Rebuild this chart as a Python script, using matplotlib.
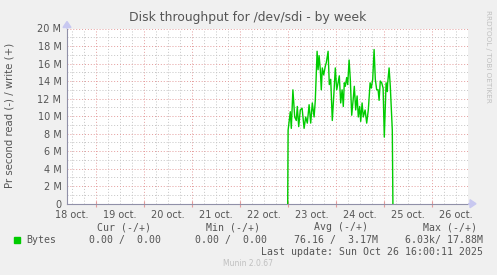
import numpy as np
import matplotlib
matplotlib.use("Agg")
import matplotlib.pyplot as plt

# ---- data ----
day_labels = ['18 oct.', '19 oct.', '20 oct.', '21 oct.', '22 oct.',
              '23 oct.', '24 oct.', '25 oct.', '26 oct.']
# hours since 18 oct 00:00
t_hours = [120.0, 120.2, 121.3, 121.8, 122.6, 123.5, 124.3, 124.8, 125.5, 126.3, 127.2,
           128.2, 129.0, 129.8, 130.7, 131.5, 132.3, 133.2, 133.8, 134.7, 135.2, 135.7,
           136.3, 136.8, 137.3, 138.0, 138.8, 139.3, 140.2, 140.8, 141.5, 142.3, 143.2,
           143.8, 144.5, 145.2, 145.8, 146.5, 147.2, 147.8, 148.3, 148.8, 149.5, 150.0,
           150.7, 151.3, 152.0, 152.7, 153.3, 154.0, 154.7, 155.3, 156.0, 156.5, 157.2,
           157.8, 158.7, 159.5, 160.3, 161.2, 161.8, 162.5, 163.2, 163.8, 164.5, 165.2,
           165.7, 166.3, 167.0, 167.7, 168.3, 169.2, 169.8, 170.0,
           170.7, 171.3, 172.3, 172.6]
write_m = [0.0, 8.4, 10.5, 8.6, 13.0, 9.9, 9.5, 11.1, 8.8, 10.7, 10.9,
           8.6, 9.9, 9.2, 11.3, 9.2, 11.5, 9.9, 11.8, 17.4, 15.3, 16.9,
           15.3, 13.0, 15.5, 14.7, 15.7, 16.1, 17.4, 13.6, 14.2, 9.5, 13.0,
           15.5, 13.0, 13.8, 14.6, 11.5, 13.0, 11.1, 13.8, 13.4, 14.4, 13.6,
           16.4, 14.2, 10.1, 11.8, 13.4, 10.7, 12.3, 9.9, 11.1, 9.4, 11.5,
           9.9, 10.7, 9.2, 10.7, 13.8, 13.2, 14.2, 17.6, 14.2, 13.0, 13.0,
           11.8, 14.0, 13.8, 13.2, 7.6, 13.8, 12.8, 13.8,
           15.5, 13.4, 8.4, 0.0]
t_all = np.array(t_hours)
w_all = np.array(write_m) * 1e6

y_labels = ['0', '2 M', '4 M', '6 M', '8 M', '10 M', '12 M', '14 M', '16 M', '18 M', '20 M']

headers = ['Cur (-/+)', 'Min (-/+)', 'Avg (-/+)', 'Max (-/+)']
values = ['0.00 /  0.00', '0.00 /  0.00', '76.16 /  3.17M', '6.03k/ 17.88M']

# ---- figure ----
W, H = 497, 275
fig = plt.figure(figsize=(W / 100, H / 100), dpi=100)
fig.patch.set_facecolor('#F0F0F0')

left_px, right_px, top_px, bot_px = 67, 468, 28.5, 203.7
ax = fig.add_axes([left_px / W, 1 - bot_px / H, (right_px - left_px) / W, (bot_px - top_px) / H])
ax.set_facecolor('white')

x0 = (left_px - 47.7) / 2.0
x1 = (right_px - 47.7) / 2.0
ax.set_xlim(x0, x1)
ax.set_ylim(0, 20e6)

red = '#E49C9C'
gray = '#C4C4C4'
# grid
midnights = []
for h in np.arange(0, 240, 6):
    if x0 < h < x1:
        if h % 24 == 0:
            midnights.append(h)
            ax.axvline(h, color=red, lw=0.7, ls=(0, (1, 2)), zorder=1)
        else:
            ax.axvline(h, color=gray, lw=0.7, ls=(0, (1, 2)), zorder=1)
for v in np.arange(1, 21) * 1e6:
    if int(round(v / 1e6)) % 2 == 0:
        ax.axhline(v, color=red, lw=0.7, ls=(0, (1, 2)), zorder=1)
    else:
        ax.axhline(v, color=gray, lw=0.7, ls=(0, (1, 2)), zorder=1)

ax.plot(t_all, w_all, color='#00CC00', lw=1.0, zorder=3)

# ticks
ax.set_xticks([12 + 24 * i for i in range(len(day_labels))])
ax.set_xticklabels(day_labels)
ax.set_xticks(midnights, minor=True)
ax.set_yticks(np.arange(0, 21, 2) * 1e6)
ax.set_yticklabels(y_labels)
ax.tick_params(axis='both', which='major', length=0, labelsize=7.0, colors='#555555')
ax.tick_params(axis='x', which='major', pad=4.5)
ax.tick_params(axis='y', which='major', pad=4)
ax.tick_params(axis='x', which='minor', length=4, direction='inout', color=red, width=0.8)
for s in ['top', 'right']:
    ax.spines[s].set_visible(False)
for s in ['left', 'bottom']:
    ax.spines[s].set_color('#9090A8')
    ax.spines[s].set_linewidth(0.8)

# axis arrows
fig.patches.append(matplotlib.patches.FancyArrow(right_px / W, 1 - bot_px / H, 2 / W, 0,
                   width=0, head_width=8 / H, head_length=6 / W, color='#C8C8F0',
                   transform=fig.transFigure, length_includes_head=False))
fig.patches.append(matplotlib.patches.FancyArrow(left_px / W, 1 - top_px / H, 0, 1 / H,
                   width=0, head_width=8 / W, head_length=6 / H, color='#C8C8F0',
                   transform=fig.transFigure))

# title and labels
fig.text(248 / W, 1 - 17 / H, 'Disk throughput for /dev/sdi - by week', ha='center', va='center',
         fontsize=8.9, color='#555555')
fig.text(10 / W, 1 - 115 / H, 'Pr second read (-) / write (+)', rotation=90, ha='center', va='center',
         fontsize=7.3, color='#555555')
fig.text(488 / W, 1 - 56 / H, 'RRDTOOL / TOBI OETIKER', rotation=270, ha='center', va='center',
         fontsize=5.2, color='#C0C0C0')

mono = dict(family='DejaVu Sans Mono', fontsize=7.1, color='#555555')
head_right = [151, 260, 368, 477]
val_right = [161, 267, 378, 483]
for hd, xr in zip(headers, head_right):
    fig.text(xr / W, 1 - 227.5 / H, hd, ha='right', va='center', **mono)
for vv, xr in zip(values, val_right):
    fig.text(xr / W, 1 - 240 / H, vv, ha='right', va='center', **mono)
fig.text(26 / W, 1 - 240 / H, 'Bytes', ha='left', va='center', **mono)
fig.patches.append(matplotlib.patches.Rectangle((14 / W, 1 - 243 / H), 6 / W, 6 / H,
                   color='#00CC00', transform=fig.transFigure))
fig.text(483 / W, 1 - 252 / H, 'Last update: Sun Oct 26 16:00:11 2025', ha='right', va='center', **mono)
fig.text(248 / W, 1 - 263.5 / H, 'Munin 2.0.67', ha='center', va='center',
         fontsize=5.5, color='#C0C0C0')

fig.savefig('out.png', dpi=100, facecolor=fig.get_facecolor())
